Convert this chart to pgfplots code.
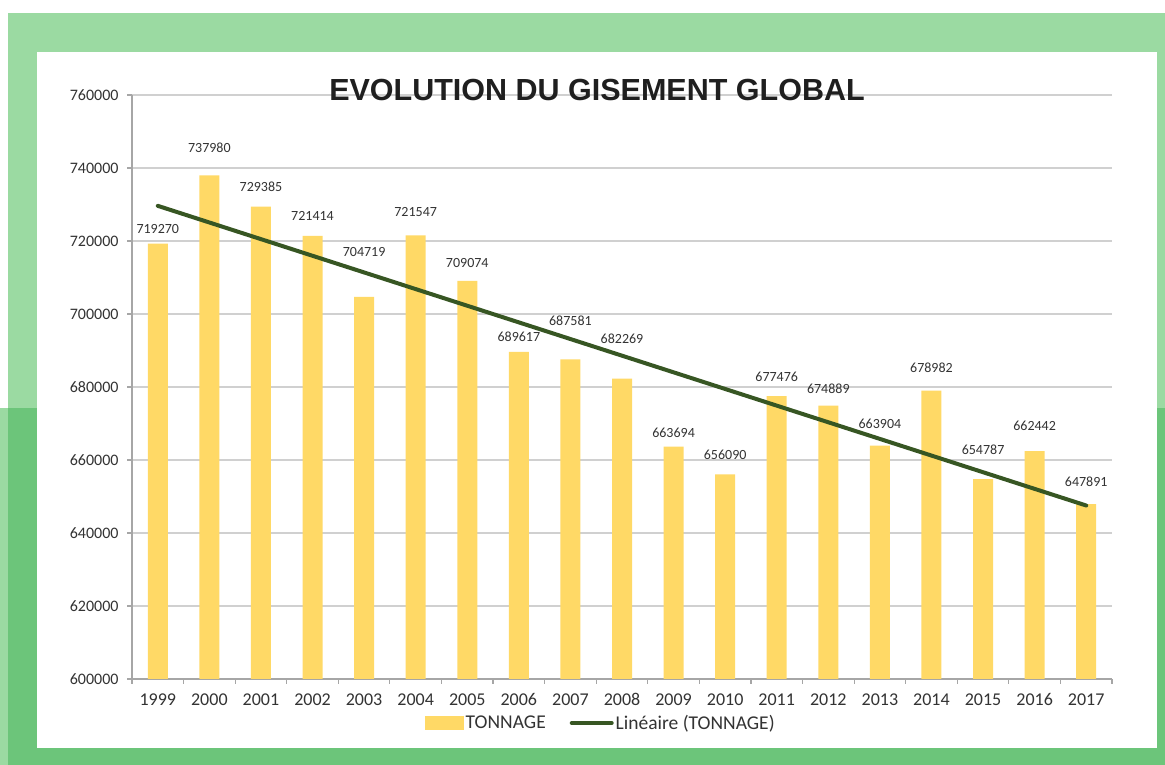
\documentclass[border=0pt]{standalone}
\usepackage{pgfplots}
\pgfplotsset{compat=1.18}
\usepackage{pgfplotstable}
\usepackage{fontspec}
\setmainfont{Carlito}
\newfontfamily\titlefont{Liberation Sans}
\definecolor{lgreen}{HTML}{9BDAA2}
\definecolor{dgreen}{HTML}{6CC57A}
\definecolor{barcol}{HTML}{FFD966}
\definecolor{trendcol}{HTML}{375623}
\definecolor{gridcol}{HTML}{D0D0D0}
\definecolor{axcol}{HTML}{A6A6A6}
\definecolor{txtcol}{HTML}{333333}

% x = category index (0 = 1999), val = tonnage, laby = height of the value label
\pgfplotstableread{
x val laby
0 719270 723288
1 737980 745479
2 729385 734877
3 721414 726932
4 704719 717068
5 721547 728027
6 709074 714055
7 689617 693699
8 687581 698164
9 682269 693151
10 663694 667479
11 656090 661370
12 677476 682822
13 674889 679452
14 663904 669863
15 678982 685205
16 654787 662740
17 662442 669397
18 647891 654055
}\gisement

\begin{document}
\begin{tikzpicture}[x=1pt,y=1pt]
\fill[white] (0,0) rectangle (1165,765);
\fill[lgreen] (8,357) rectangle (1165,752);
\fill[lgreen] (0,0) rectangle (8,357);
\fill[dgreen] (8,0) rectangle (1165,357);
\fill[white] (37,17) rectangle (1157,713);
\begin{axis}[
  at={(132pt,86pt)}, anchor=south west,
  scale only axis, width=980pt, height=584pt,
  xmin=-0.5, xmax=18.5, ymin=600000, ymax=760000,
  axis x line*=bottom, axis y line*=left,
  axis line style={axcol, line width=1.2pt, -},
  ymajorgrids, grid style={gridcol, line width=1.5pt},
  ytick={600000,620000,...,760000},
  scaled y ticks=false,
  tick align=outside, major tick length=5pt,
  tick style={axcol, line width=1.2pt},
  xtick={-0.5,0.5,1.5,2.5,3.5,4.5,5.5,6.5,7.5,8.5,9.5,10.5,11.5,12.5,13.5,14.5,15.5,16.5,17.5,18.5},
  xticklabels={,,,,,,,,,,,,,,,,,,,},
  extra x ticks={0,1,...,18},
  extra x tick labels={1999,2000,2001,2002,2003,2004,2005,2006,2007,2008,2009,2010,2011,2012,2013,2014,2015,2016,2017},
  extra x tick style={major tick length=0pt, xticklabel style={yshift=-11pt}},
  yticklabel style={/pgf/number format/fixed, /pgf/number format/1000 sep={}, /pgf/number format/assume math mode=true,
    font=\fontsize{16}{19}\selectfont, text=txtcol, xshift=-5pt},
  xticklabel style={font=\fontsize{18}{21}\selectfont, text=txtcol},
  legend columns=2,
  legend style={at={(0.5,-0.0753)}, anchor=center, xshift=-21pt, draw=none, fill=none,
    font=\fontsize{19.5}{23}\selectfont, text=txtcol,
    /tikz/every even column/.append style={column sep=22pt}},
]
\addplot[ybar, bar width=20pt, bar shift=0pt, fill=barcol, draw=none, forget plot]
  table[x=x, y=val]{\gisement};
\addplot[trendcol, line width=4pt, line cap=round, forget plot]
  coordinates {(0,729631) (18,647528)};
\addplot[draw=none, mark=none, forget plot, nodes near coords, point meta=explicit symbolic,
  every node near coord/.append style={anchor=center, font=\fontsize{14}{17}\selectfont, text=txtcol}]
  table[x=x, y=laby, meta=val]{\gisement};
\addlegendimage{legend image code/.code={\fill[barcol] (0pt,-6.5pt) rectangle (38pt,6.5pt);}}
\addlegendentry{TONNAGE}
\addlegendimage{legend image code/.code={\draw[trendcol, line width=4pt, line cap=round] (0pt,0pt) -- (40pt,0pt);}}
\addlegendentry{Linéaire (TONNAGE)}
\end{axis}
\node[font=\titlefont\bfseries\fontsize{30.5}{36}\selectfont, text=black!88] at (597,674.5) {EVOLUTION DU GISEMENT GLOBAL};
\end{tikzpicture}
\end{document}
